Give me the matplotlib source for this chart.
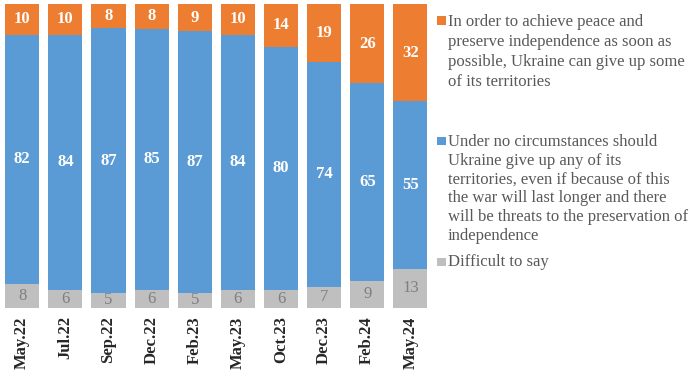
import matplotlib
matplotlib.use("Agg")
from matplotlib import pyplot as plt
from matplotlib.patches import Rectangle
import numpy as np

plt.rcParams['font.family'] = ['Liberation Serif', 'DejaVu Serif']

periods = ["May.22", "Jul.22", "Sep.22", "Dec.22", "Feb.23",
           "May.23", "Oct.23", "Dec.23", "Feb.24", "May.24"]
difficult = [8, 6, 5, 6, 5, 6, 6, 7, 9, 13]
no_give_up = [82, 84, 87, 85, 87, 84, 80, 74, 65, 55]
can_give_up = [10, 10, 8, 8, 9, 10, 14, 19, 26, 32]

label_orange = ("In order to achieve peace and\npreserve independence as soon as\n"
                "possible, Ukraine can give up some\nof its territories")
label_blue = ("Under no circumstances should\nUkraine give up any of its\n"
              "territories, even if because of this\nthe war will last longer and there\n"
              "will be threats to the preservation of\nindependence")
label_gray = "Difficult to say"

c_orange = "#ED7D31"
c_blue = "#5B9BD5"
c_gray = "#BFBFBF"

W, H = 690, 377
fig = plt.figure(figsize=(W / 100, H / 100), dpi=100)
ax = fig.add_axes([0.001, 0.183, 0.625, 0.806])

x = np.arange(len(periods))
d = np.array(difficult, dtype=float)
b = np.array(no_give_up, dtype=float)
o = np.array(can_give_up, dtype=float)
tot = d + b + o
# 100% stacked
d_p, b_p, o_p = d / tot * 100, b / tot * 100, o / tot * 100

w = 0.79
bars_g = ax.bar(x, d_p, w, color=c_gray)
bars_b = ax.bar(x, b_p, w, bottom=d_p, color=c_blue)
bars_o = ax.bar(x, o_p, w, bottom=d_p + b_p, color=c_orange)

ax.bar_label(bars_g, labels=[str(v) for v in difficult], label_type='center',
             color="#7F7F7F", fontsize=12)
ax.bar_label(bars_b, labels=[str(v) for v in no_give_up], label_type='center',
             color="white", fontsize=12, fontweight='bold')
ax.bar_label(bars_o, labels=[str(v) for v in can_give_up], label_type='center',
             color="white", fontsize=12, fontweight='bold')

ax.set_xlim(-0.5, len(periods) - 0.5)
ax.set_ylim(0, 100)
ax.set_xticks(x)
ax.set_xticklabels(periods, rotation=90, fontsize=12, fontweight='bold', color="#262626")
ax.tick_params(axis='x', length=0, pad=6)
ax.set_yticks([])
for s in ax.spines.values():
    s.set_visible(False)

# legend drawn by hand so the marker sits next to the first line
entries = [
    (c_orange, label_orange, 16.5, 13.5, 1.345),
    (c_blue, label_blue, 136.5, 134, 1.23),
    (c_gray, label_gray, 257.5, 254.5, 1.2),
]
for col, lab, sq_top, txt_top, ls in entries:
    fig.add_artist(Rectangle((437 / W, 1 - (sq_top + 8.5) / H), 9 / W, 8.5 / H,
                             transform=fig.transFigure, color=col, lw=0))
    fig.text(448 / W, 1 - txt_top / H, lab, ha='left', va='top', fontsize=12,
             color="#595959", linespacing=ls)

fig.savefig("out.png", dpi=100)
